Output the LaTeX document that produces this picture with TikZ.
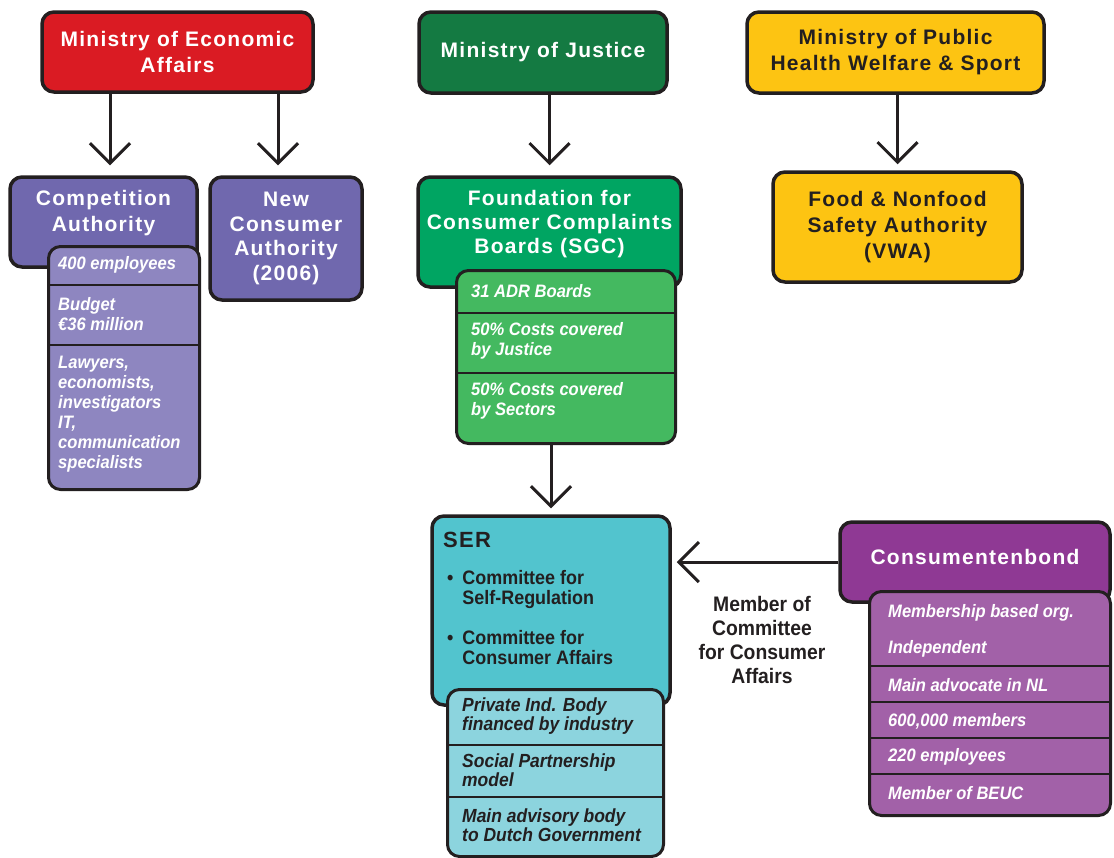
\documentclass[tikz,border=0pt]{standalone}
\usepackage{fontspec}
\setmainfont{Liberation Sans}[LetterSpace=6]
\newfontfamily\itemfont{Liberation Sans}[FakeStretch=0.92]
\usetikzlibrary{arrows.meta}

\definecolor{inkline}{RGB}{35,31,32}
\definecolor{ecored}{RGB}{218,27,35}
\definecolor{justgreen}{RGB}{20,122,66}
\definecolor{healthyel}{RGB}{253,196,18}
\definecolor{compurple}{RGB}{112,104,174}
\definecolor{compurplel}{RGB}{142,134,192}
\definecolor{sgcgreen}{RGB}{0,165,98}
\definecolor{sgcgreenl}{RGB}{68,185,96}
\definecolor{serteal}{RGB}{82,196,206}
\definecolor{sertealL}{RGB}{140,212,222}
\definecolor{cbpurple}{RGB}{143,57,148}
\definecolor{cbpurplel}{RGB}{162,97,168}

\begin{document}
\begin{tikzpicture}[x=1pt, y=-1pt, >={Straight Barb[length=20pt,width=40pt]},
  headtext/.style={align=center, inner sep=0pt, font=\bfseries\fontsize{21}{26}\selectfont},
  headbox/.style={headtext, draw=inkline, line width=3.5pt, rounded corners=12pt},
  subbox/.style={draw=inkline, line width=3pt, rounded corners=12pt, inner sep=0pt, anchor=north west},
  rowline/.style={draw=inkline, line width=2.5pt},
  fact/.style={anchor=west, inner sep=0pt, align=left, text=white,
    font=\itemfont\bfseries\itshape\fontsize{18}{20}\selectfont},
  committee/.style={anchor=west, inner sep=0pt, text=inkline,
    font=\itemfont\bfseries\fontsize{19.5}{20}\selectfont},
  link/.style={->, draw=inkline, line width=3pt, shorten >=10pt}]

  \useasboundingbox (0,0) rectangle (1114,857);

  % ministries
  \node[headbox, fill=ecored, text=white, minimum width=271pt, minimum height=80pt]
    (econ) at (177.5,52) {Ministry of Economic\\Affairs};
  \node[headbox, fill=justgreen, text=white, minimum width=248pt, minimum height=81pt]
    (justice) at (543,52.5) {Ministry of Justice};
  \node[headbox, fill=healthyel, text=inkline, minimum width=297pt, minimum height=81pt]
    (health) at (895.5,52.5) {Ministry of Public\\Health Welfare \& Sport};

  % authorities
  \node[headbox, fill=compurple, minimum width=187pt, minimum height=90pt] (compa) at (103.5,222) {};
  \node[headtext, text=white] (compa-t) at ([yshift=9pt]compa.center) {Competition\\Authority};
  \node[headbox, fill=compurple, text=white, minimum width=152pt, minimum height=123pt,
    font=\bfseries\fontsize{21}{24.5}\selectfont]
    (newca) at (286,238.5) {New\\Consumer\\Authority\\(2006)};
  \node[headbox, fill=sgcgreen, minimum width=263pt, minimum height=110pt] (found) at (549.5,232) {};
  \node[headtext, text=white, font=\bfseries\fontsize{21}{24}\selectfont]
    (found-t) at ([yshift=8pt]found.center) {Foundation for\\Consumer Complaints\\Boards (SGC)};
  \node[headbox, fill=healthyel, text=inkline, minimum width=249pt, minimum height=110pt]
    (food) at (897.5,227) {Food \& Nonfood\\Safety Authority\\(VWA)};

  % competition authority facts
  \node[subbox, fill=compurplel, minimum width=151pt, minimum height=243pt] (compsub) at (47,245) {};
  \draw[rowline] (compsub.west |- 0,285) -- (compsub.east |- 0,285);
  \draw[rowline] (compsub.west |- 0,345) -- (compsub.east |- 0,345);
  \node[fact] (cs1) at (58,265) {400 employees};
  \node[fact] (cs2) at (58,314) {Budget\\€36 million};
  \node[fact] (cs3) at (58,414) {Lawyers,\\economists,\\investigators\\IT,\\communication\\specialists};

  % SGC facts
  \node[subbox, fill=sgcgreenl, minimum width=219pt, minimum height=173pt] (sgcsub) at (455,269) {};
  \draw[rowline] (sgcsub.west |- 0,313) -- (sgcsub.east |- 0,313);
  \draw[rowline] (sgcsub.west |- 0,373) -- (sgcsub.east |- 0,373);
  \node[fact] (sg1) at (471,291) {31 ADR Boards};
  \node[fact] (sg2) at (471,341) {50\% Costs covered\\by Justice};
  \node[fact] (sg3) at (471,401) {50\% Costs covered\\by Sectors};

  % SER
  \node[headbox, fill=serteal, minimum width=238pt, minimum height=189pt] (ser) at (551,610.5) {};
  \node[anchor=west, inner sep=0pt, text=inkline, font=\bfseries\fontsize{22}{24}\selectfont]
    (ser-t) at (443,540) {SER};
  \node[committee] (com1) at (447,590)
    {\begin{tabular}{@{}l@{\hspace{9pt}}l@{}}\textbullet & Committee for\\ & Self-Regulation\end{tabular}};
  \node[committee] (com2) at (447,650)
    {\begin{tabular}{@{}l@{\hspace{9pt}}l@{}}\textbullet & Committee for\\ & Consumer Affairs\end{tabular}};
  \node[subbox, fill=sertealL, minimum width=216pt, minimum height=167pt] (sersub) at (446,688) {};
  \draw[rowline] (sersub.west |- 0,745) -- (sersub.east |- 0,745);
  \draw[rowline] (sersub.west |- 0,797) -- (sersub.east |- 0,797);
  \tikzset{serfact/.style={fact, text=inkline, font=\itemfont\bfseries\itshape\fontsize{19}{19}\selectfont}}
  \node[serfact] (se1) at (462,716) {Private Ind. Body\\financed by industry};
  \node[serfact] (se2) at (462,770) {Social Partnership\\model};
  \node[serfact] (se3) at (462,825) {Main advisory body\\to Dutch Government};

  % Consumentenbond
  \node[headbox, fill=cbpurple, minimum width=270pt, minimum height=80pt] (cons) at (975,562) {};
  \node[headtext, text=white] (cons-t) at ([yshift=5pt]cons.center) {Consumentenbond};
  \node[subbox, fill=cbpurplel, minimum width=241pt, minimum height=224pt] (conssub) at (868,590) {};
  \foreach \y in {666,702,738,774}
    \draw[rowline] (conssub.west |- 0,\y) -- (conssub.east |- 0,\y);
  \node[fact] (cb1) at (888,613) {Membership based org.};
  \node[fact] (cb2) at (888,649) {Independent};
  \node[fact] (cb3) at (888,685) {Main advocate in NL};
  \node[fact] (cb4) at (888,721) {600,000 members};
  \node[fact] (cb5) at (888,757) {220 employees};
  \node[fact] (cb6) at (888,793) {Member of BEUC};

  \node[align=center, inner sep=0pt, text=inkline, font=\itemfont\bfseries\fontsize{21}{24}\selectfont]
    (member) at (762,640) {Member of\\Committee\\for Consumer\\Affairs};

  % connectors
  \draw[link] ([xshift=6.5pt]econ.south -| compa) -- ([xshift=6.5pt]compa.north);
  \draw[link] ([xshift=-8pt]econ.south -| newca) -- ([xshift=-8pt]newca.north);
  \draw[link] (justice.south -| found) -- (found.north);
  \draw[link, shorten >=6pt] (health.south -| food) -- (food.north);
  \draw[link, shorten >=6pt] (sgcsub.south -| ser) -- (ser.north);
  \draw[link, shorten >=5pt] (cons.west) -- (cons.west -| ser.east);
\end{tikzpicture}
\end{document}
